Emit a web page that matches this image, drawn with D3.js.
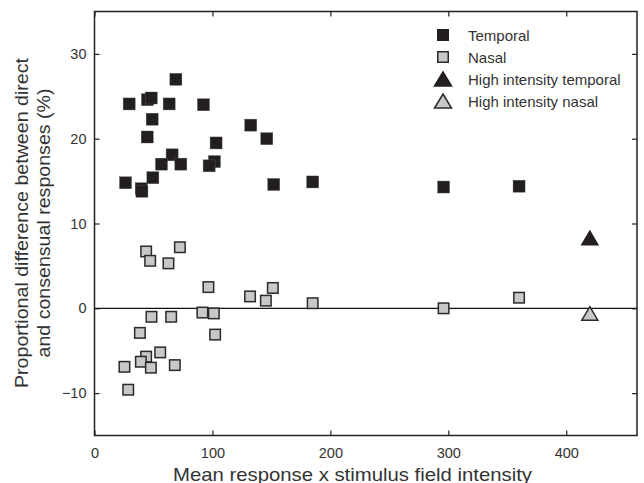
<!DOCTYPE html>
<html>
<head>
<meta charset="utf-8">
<script src="https://cdn.jsdelivr.net/npm/d3@7"></script>
<style>
  body { margin: 0; background: #fff; }
  svg { display: block; font-family: "Liberation Sans", Arial, sans-serif; }
</style>
</head>
<body>
<svg id="chart"></svg>
<script>
// x = mean response x stimulus field intensity, y = proportional difference (%)
const temporalX = [69, 29.4, 44.9, 48.1, 63.3, 92.4, 48.9, 132.5, 44.7, 146.1, 103.1, 65.8,
  56.8, 73.2, 101.7, 97.2, 49.5, 26.3, 39.6, 40.2, 152, 185, 296, 360];
const temporalY = [27.0, 24.1, 24.6, 24.8, 24.1, 24.0, 22.3, 21.6, 20.2, 20.0, 19.5, 18.1,
  17.0, 17.0, 17.3, 16.8, 15.4, 14.8, 14.1, 13.8, 14.6, 14.9, 14.3, 14.4];
const nasalX = [43.8, 47.2, 72.4, 62.7, 96.6, 131.9, 145.3, 151.2, 48.3, 65.0, 91.5, 101.2,
  38.5, 102.3, 43.8, 55.7, 39.3, 47.8, 25.4, 68.1, 28.6, 185, 296, 360];
const nasalY = [6.7, 5.6, 7.2, 5.3, 2.5, 1.4, 0.9, 2.4, -1.0, -1.0, -0.5, -0.6,
  -2.9, -3.1, -5.7, -5.2, -6.3, -7.0, -6.9, -6.7, -9.6, 0.6, 0.0, 1.25];
const highX = [420, 420];
const highY = [8.3, -0.6];   // temporal, nasal
const xTicks = [0, 100, 200, 300, 400];
const yTicks = [-10, 0, 10, 20, 30];
const legendLabels = ["Temporal", "Nasal", "High intensity temporal", "High intensity nasal"];

const width = 644, height = 483;
const margin = { top: 11.5, right: 7, bottom: 47.5, left: 94.5 };
const ink = "#222", textColor = "#333";
const blackFill = "#231f20", greyFill = "#c8c8c8";

const svg = d3.select("#chart").attr("width", width).attr("height", height);

const x = d3.scaleLinear().domain([0, 460]).range([margin.left, width - margin.right]);
const y = d3.scaleLinear().domain([-15, 35]).range([height - margin.bottom, margin.top]);

// triangle path centred on its mid height
function tri(w, h) {
  return `M0,${-h / 2} L${w / 2},${h / 2} L${-w / 2},${h / 2} Z`;
}

// axes: ticks pointing inwards on all four sides
function styleAxis(g) {
  g.select(".domain").remove();
  g.selectAll(".tick line").attr("stroke", ink).attr("stroke-width", 1.2);
  g.selectAll(".tick text").attr("fill", textColor).style("font-size", "14.5px");
}

svg.append("g")
  .attr("transform", `translate(0,${height - margin.bottom})`)
  .call(d3.axisBottom(x).tickValues(xTicks).tickSizeInner(-5).tickPadding(12))
  .call(styleAxis);

svg.append("g")
  .attr("transform", `translate(0,${margin.top})`)
  .call(d3.axisTop(x).tickValues(xTicks).tickSizeInner(-5).tickFormat(""))
  .call(styleAxis);

svg.append("g")
  .attr("transform", `translate(${margin.left},0)`)
  .call(d3.axisLeft(y).tickValues(yTicks).tickSizeInner(-5).tickPadding(8))
  .call(styleAxis);

svg.append("g")
  .attr("transform", `translate(${width - margin.right},0)`)
  .call(d3.axisRight(y).tickValues(yTicks).tickSizeInner(-5).tickFormat(""))
  .call(styleAxis);

// frame
svg.append("rect")
  .attr("x", margin.left)
  .attr("y", margin.top)
  .attr("width", width - margin.left - margin.right)
  .attr("height", height - margin.top - margin.bottom)
  .attr("fill", "none")
  .attr("stroke", ink)
  .attr("stroke-width", 1.5);

// zero line
svg.append("line")
  .attr("x1", margin.left).attr("x2", width - margin.right)
  .attr("y1", y(0)).attr("y2", y(0))
  .attr("stroke", "#111").attr("stroke-width", 1.2);

const sq = 12;

// nasal squares
svg.selectAll(".nasal")
  .data(nasalX.map((d, i) => [d, nasalY[i]]))
  .enter()
  .append("rect")
  .attr("class", "nasal")
  .attr("x", d => x(d[0]) - sq / 2 + 0.75)
  .attr("y", d => y(d[1]) - sq / 2 + 0.75)
  .attr("width", sq - 1.5)
  .attr("height", sq - 1.5)
  .attr("fill", greyFill)
  .attr("stroke", "#2a2a2a")
  .attr("stroke-width", 1.5);

// temporal squares
svg.selectAll(".temporal")
  .data(temporalX.map((d, i) => [d, temporalY[i]]))
  .enter()
  .append("rect")
  .attr("class", "temporal")
  .attr("x", d => x(d[0]) - sq / 2)
  .attr("y", d => y(d[1]) - sq / 2)
  .attr("width", sq)
  .attr("height", sq)
  .attr("fill", blackFill)
  .attr("stroke", "#555")
  .attr("stroke-width", 0.4);

// high intensity triangles
svg.selectAll(".high")
  .data(highX.map((d, i) => [d, highY[i]]))
  .enter()
  .append("path")
  .attr("class", "high")
  .attr("transform", d => `translate(${x(d[0])},${y(d[1])})`)
  .attr("d", tri(16, 13.5))
  .attr("fill", (d, i) => i === 0 ? blackFill : greyFill)
  .attr("stroke", (d, i) => i === 0 ? blackFill : "#2a2a2a")
  .attr("stroke-width", 1.5)
  .attr("stroke-linejoin", "miter");

// axis titles
svg.append("text")
  .attr("x", 352.5)
  .attr("y", 480.5)
  .attr("text-anchor", "middle")
  .attr("fill", textColor)
  .attr("textLength", 359)
  .attr("lengthAdjust", "spacingAndGlyphs")
  .style("font-size", "19px")
  .text("Mean response x stimulus field intensity");

const yMid = 223;
const yTitle = svg.append("text")
  .attr("transform", `translate(0,${yMid}) rotate(-90)`)
  .attr("text-anchor", "middle")
  .attr("fill", textColor)
  .style("font-size", "19px");
yTitle.append("tspan").attr("x", 0).attr("y", 28)
  .attr("textLength", 330).attr("lengthAdjust", "spacingAndGlyphs")
  .text("Proportional difference between direct");
yTitle.append("tspan").attr("x", 0).attr("y", 49.5)
  .attr("textLength", 269).attr("lengthAdjust", "spacingAndGlyphs")
  .text("and consensual responses (%)");

// legend
const legend = svg.append("g").attr("transform", "translate(443,35)");
legendLabels.forEach((label, i) => {
  const row = legend.append("g").attr("transform", `translate(0,${i * 22})`);
  if (i === 0) {
    row.append("rect").attr("x", -6).attr("y", -6).attr("width", 12).attr("height", 12)
      .attr("fill", blackFill);
  } else if (i === 1) {
    row.append("rect").attr("x", -5.25).attr("y", -5.25).attr("width", 10.5).attr("height", 10.5)
      .attr("fill", greyFill).attr("stroke", "#2a2a2a").attr("stroke-width", 1.5);
  } else {
    row.append("path").attr("d", tri(17, 14))
      .attr("fill", i === 2 ? blackFill : greyFill)
      .attr("stroke", i === 2 ? blackFill : "#2a2a2a")
      .attr("stroke-width", 1.5);
  }
  row.append("text")
    .attr("x", 25)
    .attr("y", 5.5)
    .attr("fill", textColor)
    .style("font-size", "15px")
    .text(label);
});
</script>
</body>
</html>
